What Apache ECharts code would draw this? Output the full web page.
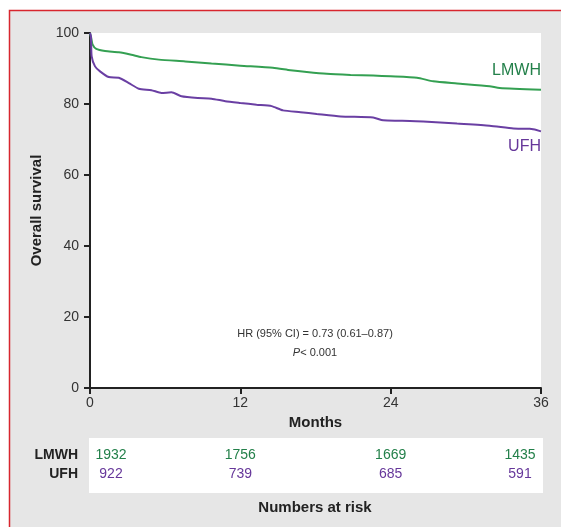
<!DOCTYPE html>
<html lang="en">
<head>
    <meta charset="UTF-8">
    <script src="https://cdn.jsdelivr.net/npm/echarts@6/dist/echarts.min.js"></script>
    <title>Overall survival</title>
    <style>
        body { margin: 0; background: #fff; }
    </style>
</head>
<body>
    <div id="main" style="width: 561px;height:527px;"></div>

    <script type="text/javascript">
        // survival curves (months, %)
        var lmwhMonths = [0, 0.1, 0.2, 0.5, 1.2, 2.3, 3.3, 4.1, 5.5, 7.6, 9.7, 12, 14.6, 16, 17.3, 18.9, 20.8, 22.6, 24, 26.1, 27.4, 29.3, 31.9, 32.7, 36];
        var lmwhSurv = [100, 98.5, 96.8, 95.5, 94.9, 94.6, 93.9, 93.2, 92.5, 92.0, 91.4, 90.8, 90.2, 89.5, 89.0, 88.5, 88.2, 88.0, 87.8, 87.4, 86.4, 85.8, 85.0, 84.5, 84.0];

        var ufhMonths = [0, 0.08, 0.13, 0.4, 0.8, 1.5, 2.3, 3.1, 3.9, 4.9, 5.7, 6.5, 7.3, 8.6, 9.7, 10.8, 12, 13.3, 14.5, 15.4, 16.8, 18.1, 20, 22.6, 23.4, 24.7, 26.6, 29.3, 31.9, 33.8, 35.1, 36];
        var ufhSurv = [100, 99, 93.5, 90.6, 89.2, 87.6, 87.4, 85.9, 84.3, 83.9, 83.1, 83.3, 82.2, 81.7, 81.5, 80.8, 80.3, 79.8, 79.4, 78.2, 77.7, 77.2, 76.5, 76.2, 75.4, 75.3, 75.1, 74.5, 73.9, 73.1, 73.0, 72.3];

        // numbers at risk
        var riskMonths = [0, 12, 24, 36];
        var riskGroups = ['LMWH', 'UFH'];
        var lmwhRisk = [1932, 1756, 1669, 1435];
        var ufhRisk = [922, 739, 685, 591];

        var font = '"Liberation Sans", Arial, sans-serif';
        var green = '#34a052';
        var greenText = '#23804a';
        var purple = '#6a3fa3';
        var purpleText = '#66379a';

        function pairs(xs, ys) {
            var out = [];
            for (var i = 0; i < xs.length; i++) {
                out.push([xs[i], ys[i]]);
            }
            return out;
        }

        function riskPoints(values, row, color) {
            var out = [];
            for (var i = 0; i < values.length; i++) {
                var shift = 0;
                if (i == 0) shift = 21;
                if (i == values.length - 1) shift = -21;
                out.push({
                    value: [riskMonths[i], row],
                    label: {
                        show: true,
                        formatter: String(values[i]),
                        position: 'inside',
                        offset: [shift, 0],
                        color: color,
                        fontSize: 14,
                        fontFamily: font
                    }
                });
            }
            return out;
        }

        var myChart = echarts.init(document.getElementById('main'));

        myChart.setOption({
            animation: false,
            backgroundColor: '#fff',
            graphic: [
                {
                    type: 'rect', z: -10,
                    shape: { x: 9.5, y: 10.5, width: 700, height: 700 },
                    style: { fill: '#e6e6e6', stroke: '#d8262e', lineWidth: 1.5 }
                },
                {
                    type: 'rect', z: -5,
                    shape: { x: 89, y: 438, width: 454, height: 55 },
                    style: { fill: '#fff' }
                },
                {
                    type: 'text', z: 10,
                    style: {
                        x: 315, y: 328, text: 'HR (95% CI) = 0.73 (0.61\u20130.87)',
                        textAlign: 'center', fill: '#333', fontSize: 11, fontFamily: font
                    }
                },
                {
                    type: 'text', z: 10,
                    style: {
                        x: 315, y: 347, text: '{i|P}< 0.001',
                        textAlign: 'center', fill: '#333', fontSize: 11, fontFamily: font,
                        rich: { i: { fontStyle: 'italic', fontSize: 11, fontFamily: font, fill: '#333' } }
                    }
                },
                {
                    type: 'text', z: 10,
                    style: {
                        x: 541, y: 63, text: 'LMWH', textAlign: 'right',
                        fill: greenText, fontSize: 16, fontFamily: font
                    }
                },
                {
                    type: 'text', z: 10,
                    style: {
                        x: 541, y: 139, text: 'UFH', textAlign: 'right',
                        fill: purpleText, fontSize: 16, fontFamily: font
                    }
                },
                {
                    type: 'text', z: 10,
                    style: {
                        x: 315, y: 500, text: 'Numbers at risk', textAlign: 'center',
                        fill: '#222', fontSize: 15, fontWeight: 'bold', fontFamily: font
                    }
                }
            ],
            grid: [
                {
                    left: 90, top: 33, width: 451, height: 355,
                    show: true, backgroundColor: '#fff', borderWidth: 0
                },
                {
                    left: 90, top: 446, width: 451, height: 37
                }
            ],
            xAxis: [
                {
                    type: 'value', gridIndex: 0, min: 0, max: 36, interval: 12,
                    name: 'Months', nameLocation: 'middle', nameGap: 26,
                    nameTextStyle: { color: '#222', fontSize: 15, fontWeight: 'bold', fontFamily: font },
                    axisLine: { show: true, onZero: false, lineStyle: { color: '#222', width: 2 } },
                    axisTick: { show: true, length: 6, lineStyle: { color: '#222', width: 2 } },
                    axisLabel: { color: '#333', fontSize: 14, margin: 8, fontFamily: font },
                    splitLine: { show: false }
                },
                {
                    type: 'value', gridIndex: 1, min: 0, max: 36,
                    show: false
                }
            ],
            yAxis: [
                {
                    type: 'value', gridIndex: 0, min: 0, max: 100, interval: 20,
                    name: 'Overall survival', nameLocation: 'middle', nameGap: 44, nameRotate: 90,
                    nameTextStyle: { color: '#222', fontSize: 15, fontWeight: 'bold', fontFamily: font },
                    axisLine: { show: true, lineStyle: { color: '#222', width: 2 } },
                    axisTick: { show: true, length: 6, lineStyle: { color: '#222', width: 2 } },
                    axisLabel: { color: '#333', fontSize: 14, margin: 11, fontFamily: font },
                    splitLine: { show: false }
                },
                {
                    type: 'category', gridIndex: 1, inverse: true,
                    data: riskGroups,
                    axisLine: { show: false },
                    axisTick: { show: false },
                    axisLabel: { color: '#222', fontSize: 14, fontWeight: 'bold', margin: 12, fontFamily: font }
                }
            ],
            series: [
                {
                    name: 'LMWH', type: 'line', xAxisIndex: 0, yAxisIndex: 0,
                    data: pairs(lmwhMonths, lmwhSurv),
                    showSymbol: false, smooth: 0.2,
                    lineStyle: { color: green, width: 2 }
                },
                {
                    name: 'UFH', type: 'line', xAxisIndex: 0, yAxisIndex: 0,
                    data: pairs(ufhMonths, ufhSurv),
                    showSymbol: false, smooth: 0.2,
                    lineStyle: { color: purple, width: 2 }
                },
                {
                    type: 'scatter', xAxisIndex: 1, yAxisIndex: 1,
                    symbolSize: 2, itemStyle: { color: 'rgba(0,0,0,0)', opacity: 1 },
                    data: riskPoints(lmwhRisk, 'LMWH', greenText)
                },
                {
                    type: 'scatter', xAxisIndex: 1, yAxisIndex: 1,
                    symbolSize: 2, itemStyle: { color: 'rgba(0,0,0,0)', opacity: 1 },
                    data: riskPoints(ufhRisk, 'UFH', purpleText)
                }
            ]
        });
    </script>
</body>
</html>
